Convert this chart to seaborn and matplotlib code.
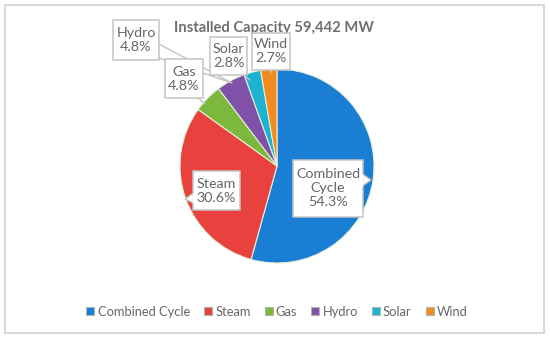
import matplotlib
matplotlib.use("Agg")
import matplotlib.pyplot as plt
from matplotlib.patches import Rectangle, Polygon
import seaborn as sns

# data
sources = ["Combined Cycle", "Steam", "Gas", "Hydro", "Solar", "Wind"]
shares = [54.3, 30.6, 4.8, 4.8, 2.8, 2.7]
colors = ["#1a7fd4", "#e8413e", "#7bb83b", "#7f51a9", "#1cb2d2", "#f48b1f"]
title = "Installed Capacity 59,442 MW"

sns.set_theme(style="white")
plt.rcParams["font.family"] = ["Lato", "DejaVu Sans"]
pal = sns.color_palette(colors)

W, H = 550, 339
fig = plt.figure(figsize=(5.5, 3.39), dpi=100)
ax = fig.add_axes([0, 0, 1, 1])
ax.set_aspect("equal")
ax.axis("off")

# outer chart border
ax.add_patch(Rectangle((5, H - 333), 539, 328, fc="white", ec="#d9d9d9",
                       lw=1.5, zorder=-2))

cx, cy, r = 277, H - 166, 97
wedges, _ = ax.pie(shares, colors=pal, startangle=90, counterclock=False,
                   center=(cx, cy), radius=r,
                   wedgeprops=dict(edgecolor="#e6f0d8", linewidth=0.8))
ax.set_xlim(0, W)
ax.set_ylim(0, H)

ax.text(274, H - 28, title, ha="center", va="center", fontsize=10.6,
        fontweight="bold", color="#707070")

gray_txt = "#666666"
box_ec = "#c4c4c4"


def label_box(x0, y0, x1, y1, text):
    # box given in pixel coords, y from top
    ax.add_patch(Rectangle((x0, H - y1), x1 - x0, y1 - y0, fc="white",
                           ec=box_ec, lw=1.1, zorder=5))
    ax.text((x0 + x1) / 2, H - (y0 + y1) / 2, text, ha="center",
            va="center", fontsize=10.3, color=gray_txt, linespacing=1.2,
            zorder=6)


# leader lines
ax.plot([159, 232, 159], [H - 44, H - 83, H - 58], color=box_ec, lw=1,
        zorder=3)
ax.plot([198, 205], [H - 98, H - 104], color=box_ec, lw=1, zorder=3)
ax.plot([244, 250], [H - 75, H - 80], color=box_ec, lw=1, zorder=3)
ax.plot([271, 271], [H - 68, H - 72], color=box_ec, lw=1, zorder=3)

label_box(293, 160, 363, 217, "Combined\nCycle\n54.3%")
label_box(193, 171, 240, 210, "Steam\n30.6%")
label_box(165, 59, 203, 98, "Gas\n4.8%")
label_box(113, 20, 159, 60, "Hydro\n4.8%")
label_box(210, 37, 247, 75, "Solar\n2.8%")
label_box(252, 33, 290, 70, "Wind\n2.7%")

# callout pointers
ax.add_patch(Polygon([(193.5, H - 193), (185, H - 199), (193.5, H - 203)],
                     closed=True, fc="white", ec=box_ec, lw=1, zorder=7))
ax.add_patch(Polygon([(362.5, H - 174), (371, H - 180), (362.5, H - 186)],
                     closed=True, fc="white", ec=box_ec, lw=1, zorder=7))
ax.plot([193.8, 193.8], [H - 193.5, H - 202.5], color="white", lw=1.5, zorder=8)
ax.plot([362.2, 362.2], [H - 174.5, H - 185.5], color="white", lw=1.5, zorder=8)

handles = [plt.Line2D([], [], marker="s", ls="", markersize=6,
                      markerfacecolor=c, markeredgecolor="#a9b8a9",
                      markeredgewidth=0.8)
           for c in pal]
fig.legend(handles, sources, loc="center", bbox_to_anchor=(277 / W, 1 - 312 / H),
           ncol=6, frameon=False, fontsize=9.3, handlelength=0.6,
           handletextpad=0.25, columnspacing=1.1, labelcolor=gray_txt)

fig.savefig("out.png", dpi=100)
